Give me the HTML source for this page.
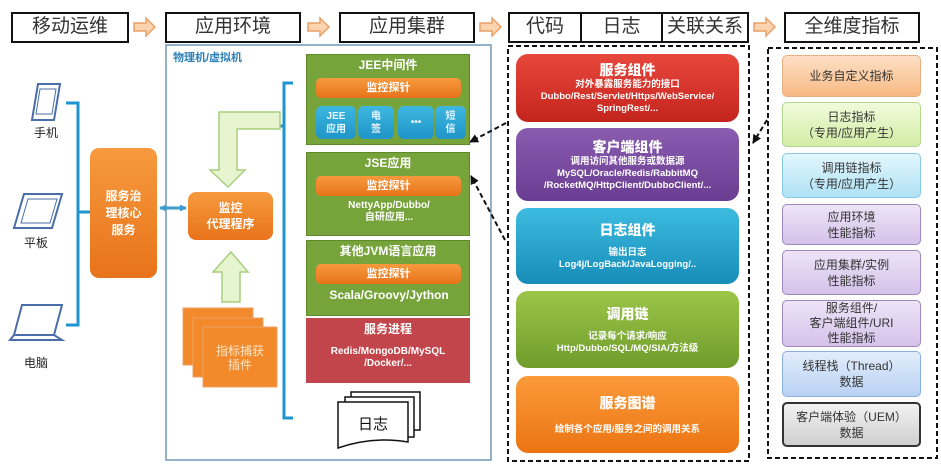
<!DOCTYPE html>
<html><head><meta charset="utf-8"><style>
body{margin:0;width:941px;height:475px;background:#fff;overflow:hidden;position:relative;font-family:"Liberation Sans","Noto Sans CJK SC",sans-serif}
.a{position:absolute;box-sizing:border-box}
.hd{position:absolute;box-sizing:border-box;border:2px solid #111;background:#fff;font-size:19px;color:#333;text-align:center;line-height:26px;top:12px;height:31px}
.c{display:flex;flex-direction:column;align-items:center;justify-content:center;text-align:center}
.g{background:#77a33b;border:1px solid #5f8a2a;color:#fff;font-weight:bold;font-size:11px}
.ob{background:linear-gradient(#f79a3e,#e8731a);border-radius:5px;color:#fff;font-weight:bold;font-size:11px;line-height:20px;text-align:center}
.bl{background:linear-gradient(#3db8e0,#1f94c8);border-radius:6px;color:#e8f6ff;font-size:10px;line-height:13px}
.m{border-radius:12px;color:#fff;font-weight:bold;font-size:9.5px;line-height:12px}
.m b{font-size:14px;line-height:18px}
.r{border-radius:5px;font-size:12px;line-height:16px;color:#333;border:1px solid #aaa}
</style></head><body>
<div class="hd" style="left:11px;width:118px">移动运维</div>
<div class="hd" style="left:165px;width:136px">应用环境</div>
<div class="hd" style="left:339px;width:136px">应用集群</div>
<div class="hd" style="left:508px;width:241px;display:flex;padding:0"><span style="width:70px;border-right:2px solid #111">代码</span><span style="width:79px;border-right:2px solid #111">日志</span><span style="flex:1">关联关系</span></div>
<div class="hd" style="left:784px;width:136px">全维度指标</div>

<svg class="a" style="left:0;top:0" width="941" height="475">
<defs><marker id="ar" markerUnits="userSpaceOnUse" markerWidth="9" markerHeight="9" refX="8" refY="4.5" orient="auto"><path d="M0,0 L9,4.5 L0,9 z" fill="#111"/></marker>
<marker id="bm" markerUnits="userSpaceOnUse" markerWidth="7" markerHeight="7" refX="6" refY="3.5" orient="auto"><path d="M0,0 L7,3.5 L0,7 z" fill="#3d9ccc"/></marker>
<marker id="bs" markerUnits="userSpaceOnUse" markerWidth="7" markerHeight="7" refX="1" refY="3.5" orient="auto"><path d="M7,0 L0,3.5 L7,7 z" fill="#3d9ccc"/></marker></defs>
<g fill="#fbd3ae" stroke="#e8a066" stroke-width="1.5">
<path d="M134,23 h12 v-5 l9,9 l-9,9 v-5 h-12 z"/>
<path d="M308,23 h12 v-5 l9,9 l-9,9 v-5 h-12 z"/>
<path d="M480,23 h12 v-5 l9,9 l-9,9 v-5 h-12 z"/>
<path d="M754,23 h12 v-5 l9,9 l-9,9 v-5 h-12 z"/>
</g>
<rect x="166" y="45" width="325" height="415" fill="none" stroke="#6f98b8" stroke-width="1.5"/>
<g fill="none" stroke="#4a6ea8" stroke-width="2">
<path d="M38,84 h22 l-6,36 h-22 z"/><path d="M40,89 h16 l-4,25 h-16 z" stroke-width="1"/>
<path d="M24,194 h38 l-10,34 h-38 z"/><path d="M28,199 h29 l-7,24 h-29 z" stroke-width="1"/>
<path d="M22,305 h40 l-8,30 h-40 z"/><path d="M10,340 l4,-5 h40 l8,5 z"/>
</g>
<text x="46" y="137" font-size="12" text-anchor="middle" fill="#222">手机</text>
<text x="36" y="247" font-size="12" text-anchor="middle" fill="#222">平板</text>
<text x="36" y="367" font-size="12" text-anchor="middle" fill="#222">电脑</text>
<g stroke="#1e94d0" stroke-width="3" fill="none">
<path d="M66,103 h12 v222 h-12"/><path d="M78,212 h12"/>
<path d="M293,83 h-9 v335 h9"/><path d="M284,126 h-5"/>
</g>
<line x1="160" y1="208" x2="186" y2="208" stroke="#3d9ccc" stroke-width="3" marker-end="url(#bm)" marker-start="url(#bs)"/>
<path d="M280,112 v17 h-43 v41 h8 l-17,17 l-18,-17 h9 v-58 z" fill="#e6f5cf" stroke="#a9cf7e" stroke-width="1.5"/>
<path d="M231,252 l17,20 h-8 v30 h-18 v-30 h-9 z" fill="#e6f5cf" stroke="#a9cf7e" stroke-width="1.5"/>
<g fill="#f28a2c" stroke="#e9a365" stroke-width="1">
<rect x="183" y="308" width="70" height="57"/><rect x="193" y="318" width="70" height="59"/><rect x="203" y="327" width="74" height="60"/></g>
<text x="240" y="355" font-size="12" text-anchor="middle" fill="#fde6c8">指标捕获</text>
<text x="240" y="369" font-size="12" text-anchor="middle" fill="#fde6c8">插件</text>
<g fill="#fff" stroke="#111" stroke-width="1.5">
<path d="M351,392 h69 v38 h-69 z"/><path d="M345,397 h69 v40 h-69 z"/>
<path d="M338,402 h70 v40 q-35,-6 -70,6 z"/></g>
<text x="373" y="429" font-size="15" text-anchor="middle" fill="#111">日志</text>
<rect x="508" y="46" width="241" height="415" fill="none" stroke="#111" stroke-width="2" stroke-dasharray="5,3"/>
<rect x="768" y="48" width="169" height="410" fill="none" stroke="#111" stroke-width="2" stroke-dasharray="5,3"/>
<g stroke="#111" stroke-width="2" stroke-dasharray="5,3" fill="none">
<line x1="506" y1="123" x2="470" y2="142" marker-end="url(#ar)"/>
<line x1="505" y1="240" x2="471" y2="176" marker-end="url(#ar)"/>
<line x1="767" y1="120" x2="753" y2="143" marker-end="url(#ar)"/>
</g>
</svg>
<div class="a" style="left:173px;top:49px;font-size:11px;font-weight:bold;color:#2a7fb8">物理机/虚拟机</div>
<div class="a ob c" style="left:90px;top:148px;width:67px;height:130px;border-radius:9px;font-size:12px;line-height:17px">服务治<br>理核心<br>服务</div>
<div class="a ob c" style="left:188px;top:192px;width:85px;height:48px;border-radius:8px;font-size:12px;line-height:16px">监控<br>代理程序</div>

<div class="a g" style="left:306px;top:54px;width:164px;height:91px">
<div style="text-align:center;font-size:12px;line-height:20px">JEE中间件</div>
<div class="a ob" style="left:9px;top:23px;width:145px;height:20px">监控探针</div>
<div class="a bl c" style="left:9px;top:51px;width:40px;height:33px">JEE<br>应用</div>
<div class="a bl c" style="left:51px;top:51px;width:36px;height:33px">电<br>签</div>
<div class="a bl c" style="left:91px;top:51px;width:36px;height:33px;font-weight:bold">•••</div>
<div class="a bl c" style="left:128px;top:51px;width:31px;height:33px">短<br>信</div>
</div>
<div class="a g" style="left:306px;top:152px;width:164px;height:84px">
<div style="text-align:center;font-size:12px;line-height:20px">JSE应用</div>
<div class="a ob" style="left:9px;top:23px;width:145px;height:20px">监控探针</div>
<div class="a" style="left:0;top:47px;width:164px;text-align:center;font-size:10px;line-height:12px">NettyApp/Dubbo/<br>自研应用...</div>
</div>
<div class="a g" style="left:306px;top:240px;width:164px;height:76px">
<div style="text-align:center;font-size:12px;line-height:20px">其他JVM语言应用</div>
<div class="a ob" style="left:9px;top:23px;width:145px;height:20px">监控探针</div>
<div class="a" style="left:0;top:47px;width:164px;text-align:center;font-size:12px;line-height:15px">Scala/Groovy/Jython</div>
</div>
<div class="a" style="left:306px;top:318px;width:164px;height:65px;background:#c1454a;color:#fff;font-weight:bold;text-align:center">
<div style="font-size:12px;line-height:22px">服务进程</div>
<div style="font-size:10px;line-height:12px;margin-top:6px">Redis/MongoDB/MySQL<br>/Docker/...</div></div>

<div class="a m c" style="left:516px;top:54px;width:223px;height:68px;background:linear-gradient(#e8473b,#c3241d)"><b>服务组件</b>对外暴露服务能力的接口<br>Dubbo/Rest/Servlet/Https/WebService/<br>SpringRest/...</div>
<div class="a m c" style="left:516px;top:128px;width:223px;height:73px;background:linear-gradient(#8a5cb0,#6a3d92)"><b>客户端组件</b>调用访问其他服务或数据源<br>MySQL/Oracle/Redis/RabbitMQ<br>/RocketMQ/HttpClient/DubboClient/...</div>
<div class="a m c" style="left:516px;top:208px;width:223px;height:76px;background:linear-gradient(#3dbbe0,#178db8)"><b>日志组件</b><span style="height:8px"></span>输出日志<br>Log4j/LogBack/JavaLogging/..</div>
<div class="a m c" style="left:516px;top:291px;width:223px;height:77px;background:linear-gradient(#9cc648,#6f9c2c)"><b>调用链</b><span style="height:8px"></span>记录每个请求/响应<br>Http/Dubbo/SQL/MQ/SIA/方法级</div>
<div class="a m c" style="left:516px;top:376px;width:223px;height:77px;background:linear-gradient(#fb9a3a,#eb7412)"><b>服务图谱</b><span style="height:12px"></span>绘制各个应用/服务之间的调用关系</div>

<div class="a r c" style="left:782px;top:55px;width:139px;height:42px;background:linear-gradient(#fde0c6,#f8b983);border-color:#e8b080">业务自定义指标</div>
<div class="a r c" style="left:782px;top:102px;width:139px;height:45px;background:linear-gradient(#f1fbdc,#d2eda5);border-color:#b5d890">日志指标<br>（专用/应用产生）</div>
<div class="a r c" style="left:782px;top:153px;width:139px;height:45px;background:linear-gradient(#e2f6fd,#b0e2f5);border-color:#88c8e6">调用链指标<br>（专用/应用产生）</div>
<div class="a r c" style="left:782px;top:204px;width:139px;height:41px;background:linear-gradient(#eee4f7,#d4c2ea);border-color:#9e88bc">应用环境<br>性能指标</div>
<div class="a r c" style="left:782px;top:250px;width:139px;height:45px;background:linear-gradient(#eee4f7,#d4c2ea);border-color:#9e88bc">应用集群/实例<br>性能指标</div>
<div class="a r c" style="left:782px;top:300px;width:139px;height:47px;background:linear-gradient(#eee4f7,#d4c2ea);border-color:#9e88bc;line-height:15px">服务组件/<br>客户端组件/URI<br>性能指标</div>
<div class="a r c" style="left:782px;top:351px;width:139px;height:46px;background:linear-gradient(#e2edfb,#b9d2f3);border-color:#8aaede">线程栈（Thread）<br>数据</div>
<div class="a r c" style="left:782px;top:402px;width:139px;height:45px;background:linear-gradient(#f2f2f2,#cfcfcf);border:2px solid #333">客户端体验（UEM）<br>数据</div>
</body></html>
